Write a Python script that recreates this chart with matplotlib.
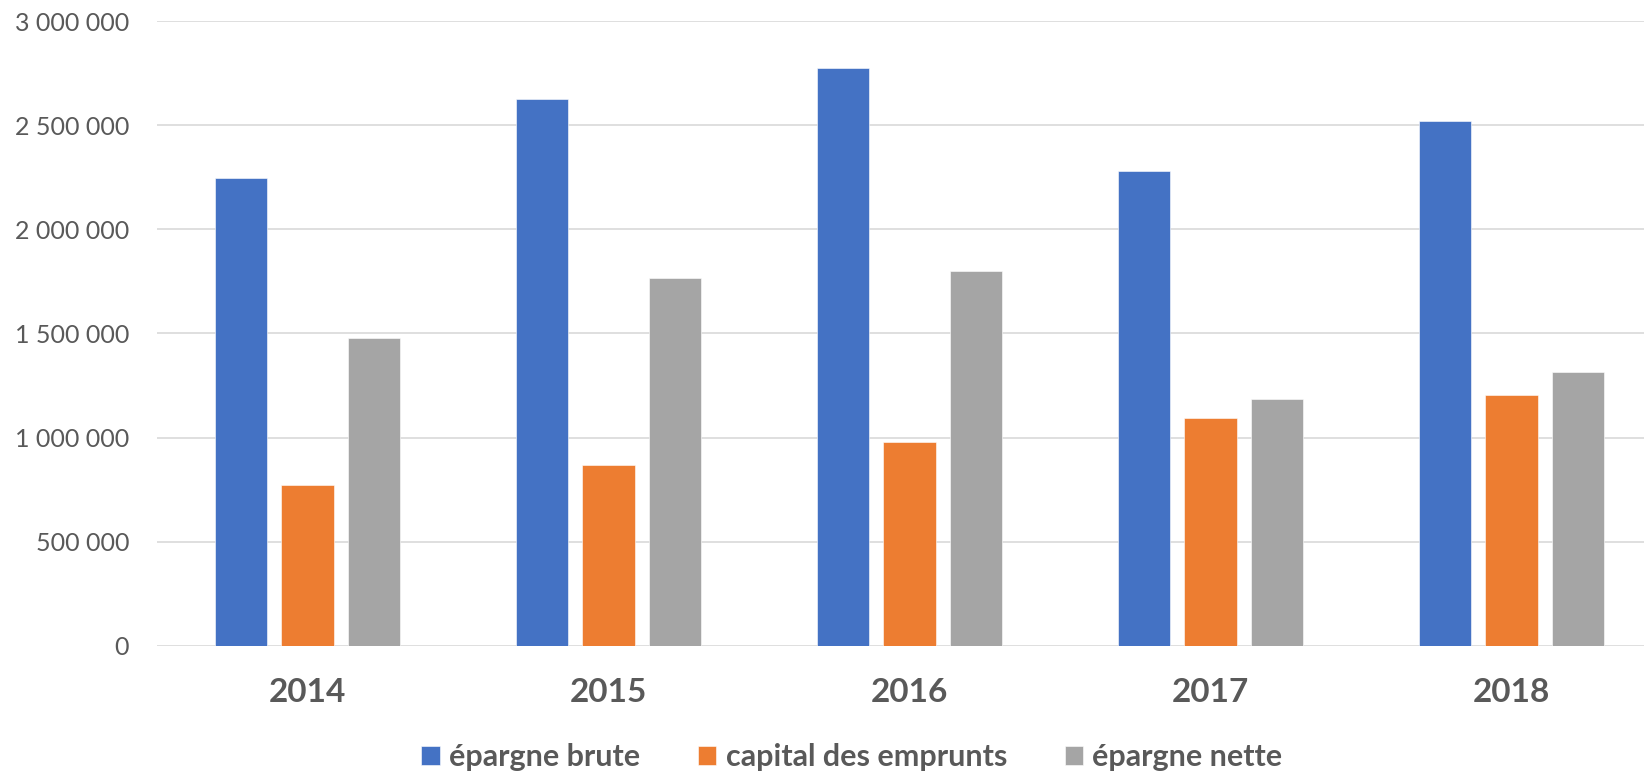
import matplotlib.pyplot as plt
import numpy as np
from matplotlib.ticker import FuncFormatter, MultipleLocator

plt.rcParams['font.family'] = ['Lato', 'DejaVu Sans']

#====================DATA====================

years = ["2014", "2015", "2016", "2017", "2018"]
epargne_brute = [2245000, 2625000, 2773000, 2280000, 2522000]
capital_emprunts = [772000, 868000, 978000, 1092000, 1203000]
epargne_nette = [1479000, 1765000, 1800000, 1186000, 1315000]

series = ["épargne brute", "capital des emprunts", "épargne nette"]
colors = ["#4472C4", "#ED7D31", "#A5A5A5"]
text_color = "#595959"

#====================PLOT====================

fig = plt.figure(figsize=(16.44, 7.75), dpi=100)
ax = fig.add_axes([0.0955, 0.1668, 0.9045, 0.806])

x = np.arange(len(years))
width = 0.174
step = 0.221
for i, (vals, name, col) in enumerate(zip([epargne_brute, capital_emprunts, epargne_nette], series, colors)):
    ax.bar(x + (i - 1) * step, vals, width, color=col, label=name,
           edgecolor="white", linewidth=0.4, zorder=3)

ax.set_ylim(0, 3000000)
ax.set_xlim(-0.5, 4.44)
ax.yaxis.set_major_locator(MultipleLocator(500000))
ax.yaxis.set_major_formatter(FuncFormatter(lambda v, p: format(int(v), ",").replace(",", " ")))
ax.grid(axis="y", color="#d9d9d9", linewidth=1.2, zorder=0)
for s in ax.spines.values():
    s.set_visible(False)

ax.set_xticks(x)
ax.set_xticklabels(years, fontsize=24, fontweight="bold", color=text_color)
ax.tick_params(axis="x", length=0, pad=23)
ax.tick_params(axis="y", length=0, pad=20, labelsize=18, labelcolor=text_color)

leg = fig.legend(loc="center", bbox_to_anchor=(852 / 1644, 1 - 757 / 775), ncol=3,
                 frameon=False, handlelength=0.6, handleheight=0.6, handletextpad=0.3,
                 columnspacing=1.9, prop={"size": 22, "weight": "bold"})
for t in leg.get_texts():
    t.set_color(text_color)

plt.savefig("out.png", dpi=100)
